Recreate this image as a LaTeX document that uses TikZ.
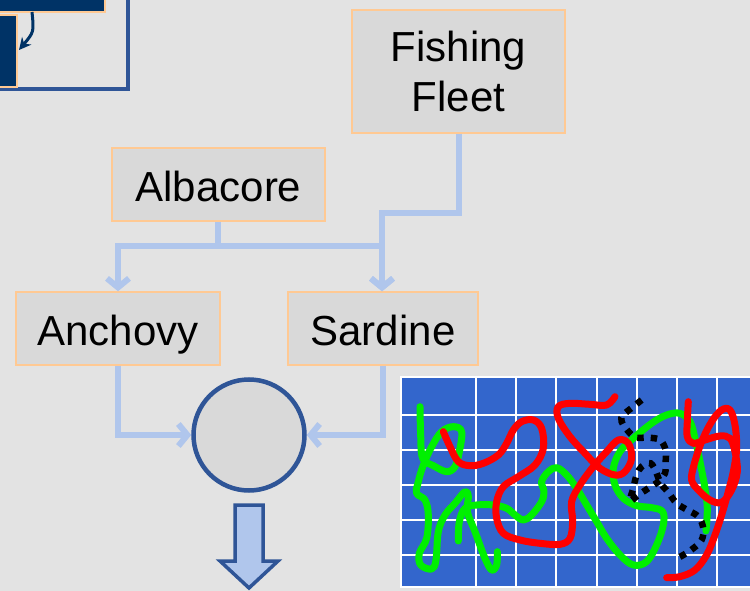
\documentclass[tikz,border=0pt]{standalone}
\usepackage{fontspec}
\setmainfont{Liberation Sans}
\usepackage{xcolor}
\usetikzlibrary{arrows.meta}

\definecolor{bg}{HTML}{E3E3E3}
\definecolor{boxfill}{HTML}{D9D9D9}
\definecolor{boxline}{HTML}{FFC993}
\definecolor{linkblue}{HTML}{B0C6EC}
\definecolor{darkblue}{HTML}{2F5597}
\definecolor{navy}{HTML}{003366}
\definecolor{sea}{HTML}{3366CC}
\definecolor{weed}{HTML}{00F000}

\tikzset{
  box/.style={draw=boxline,line width=1.5pt,fill=boxfill,align=center,
    font=\fontsize{42}{50}\selectfont,inner sep=0pt,text depth=0pt},
  tag/.style={box,text height=33pt,minimum height=73pt},
  link/.style={draw=linkblue,line width=6pt,
    -{Straight Barb[length=9pt,width=22pt]}},
  hub/.style={circle,draw=darkblue,line width=4.5pt,fill=boxfill,
    minimum size=111pt,inner sep=0pt},
  strand/.style={line width=7pt,line cap=round,line join=round}
}

\begin{document}
\begin{tikzpicture}[x=1pt,y=-1pt]

    % Canvas
    \useasboundingbox (0,0) rectangle (750,591);
    \fill[bg] (0,0) rectangle (750,591);

    % Corner of the previous panel
    \draw[darkblue,line width=4pt] (-10,-10) rectangle (128,89);
    \draw[boxline,line width=1.5pt,fill=navy] (-10,-10) rectangle (105,12);
    \draw[boxline,line width=1.5pt,fill=navy] (-10,15) rectangle (17,87);
    \draw[navy,line width=3pt,-{Stealth[length=12pt,width=12pt]}]
      (32,12) .. controls (34,32) .. (19,50);

    % Stocks and fleet
    \node[box,minimum width=213pt,minimum height=123pt] (fleet) at (458.5,71.5) {Fishing\\Fleet};
    \node[tag,minimum width=213pt] (albacore) at (218.5,184.5) {Albacore};
    \node[tag,minimum width=204pt] (anchovy)  at (118,328.5) {Anchovy};
    \node[tag,minimum width=190pt] (sardine)  at (383,328.5) {Sardine};
    \node[hub] (catch) at (249,435) {};

    % Junctions of the feeding lines
    \coordinate (split)  at (218,246);
    \coordinate (leftT)  at (118,246);
    \coordinate (rightT) at (382,246);
    \coordinate (bend)   at (459,213);

    % Predation and fishing links
    \draw[draw=linkblue,line width=6pt] (albacore.south -| split) -- (split);
    \draw[link] (split) -- (leftT) -- (anchovy.north -| leftT);
    \draw[link] (split) -- (rightT) -- (sardine.north -| rightT);
    \draw[link] (fleet.south -| bend) -- (bend) -- (bend -| rightT) -- (sardine.north -| rightT);
    \draw[link] (anchovy.south) |- (catch.west);
    \draw[link] (sardine.south) |- (catch.east);

    % Output arrow
    \draw[darkblue,line width=3.5pt,fill=linkblue,line join=miter]
      (235,505) -- (263,505) -- (263,561) -- (278,561) -- (249,588)
      -- (220,561) -- (235,561) -- cycle;

    % Tangled lines on the grid
    \fill[white] (400,376) rectangle (752,588);
    \fill[sea] (402,378) rectangle (752,586);
    \foreach \gx in {476,516,556,597,637,677,717}
      \draw[white,line width=1.5pt] (\gx,378) -- (\gx,586);
    \foreach \gy in {415,450,485,520,555}
      \draw[white,line width=1.5pt] (402,\gy) -- (752,\gy);

    \begin{scope}[xshift=400pt,yshift=-375pt,x=0.3333pt,y=-0.3333pt]
      \clip (6,10) rectangle (1060,632);
      % green
      \draw[strand,weed] plot[smooth,tension=0.6] coordinates {
        (60,95)(62,180)(68,250)(100,272)(140,290)(165,275)(178,230)(185,170)
        (160,155)(125,170)(95,215)(70,270)(55,320)(50,355)(75,375)(85,420)
        (80,490)(58,535)(62,570)(95,582)(108,555)(115,470)(135,420)(165,385)
        (195,350)(205,365)(202,410)(225,470)(255,550)(275,585)(290,570)(292,530)};
      \draw[strand,weed] plot[smooth,tension=0.6] coordinates {
        (175,498)(178,440)(195,400)(230,390)(280,390)(320,400)(345,420)(370,435)
        (395,420)(425,380)(432,350)(425,320)(445,290)(470,278)(500,300)(530,340)
        (560,390)(590,440)(620,490)(660,540)(700,570)(740,560)(770,510)(790,450)
        (788,410)(755,398)(710,392)(670,370)(645,330)(640,280)(660,230)(700,190)
        (755,145)(800,120)(840,115)(870,140)(885,190)(900,260)(915,340)(922,400)(918,468)};
      % red
      \draw[strand,red] plot[smooth,tension=0.6] coordinates {
        (130,170)(150,215)(175,260)(210,272)(250,265)(295,240)(320,205)(340,165)
        (365,140)(400,135)(425,160)(430,220)(405,270)(355,305)(310,335)(290,380)
        (290,430)(310,475)(360,495)(420,505)(480,508)(510,490)(518,440)(515,380)
        (540,330)(580,275)(620,230)(655,195)(685,205)(695,250)(675,290)(645,300)
        (600,280)(555,235)(510,185)(475,130)(475,95)(510,85)(570,88)(620,90)(645,65)};
      \draw[strand,red] plot[smooth,tension=0.6] coordinates {
        (865,80)(862,140)(862,185)(880,205)(915,195)(960,183)(990,190)(1005,230)
        (1012,290)(995,345)(965,382)(930,375)(895,345)(875,315)(882,270)(905,200)
        (935,140)(965,105)(990,105)(1005,150)(1010,220)(1000,290)(985,350)(965,420)
        (945,480)(920,540)(885,585)(840,605)(800,608)};
      % black dotted
      \draw[line width=6.5pt,dash pattern=on 6.5pt off 7pt] plot[smooth,tension=0.6] coordinates {
        (725,75)(700,95)(670,120)(665,140)(690,175)(710,188)(745,188)(780,195)
        (797,225)(797,260)(795,295)(775,320)(745,340)(715,360)(690,378)(700,340)
        (710,300)(725,275)(752,265)(770,295)(782,325)(805,352)(830,385)(862,405)
        (895,425)(910,460)(905,495)(880,520)(850,540)(822,555)};
    \end{scope}

\end{tikzpicture}
\end{document}
